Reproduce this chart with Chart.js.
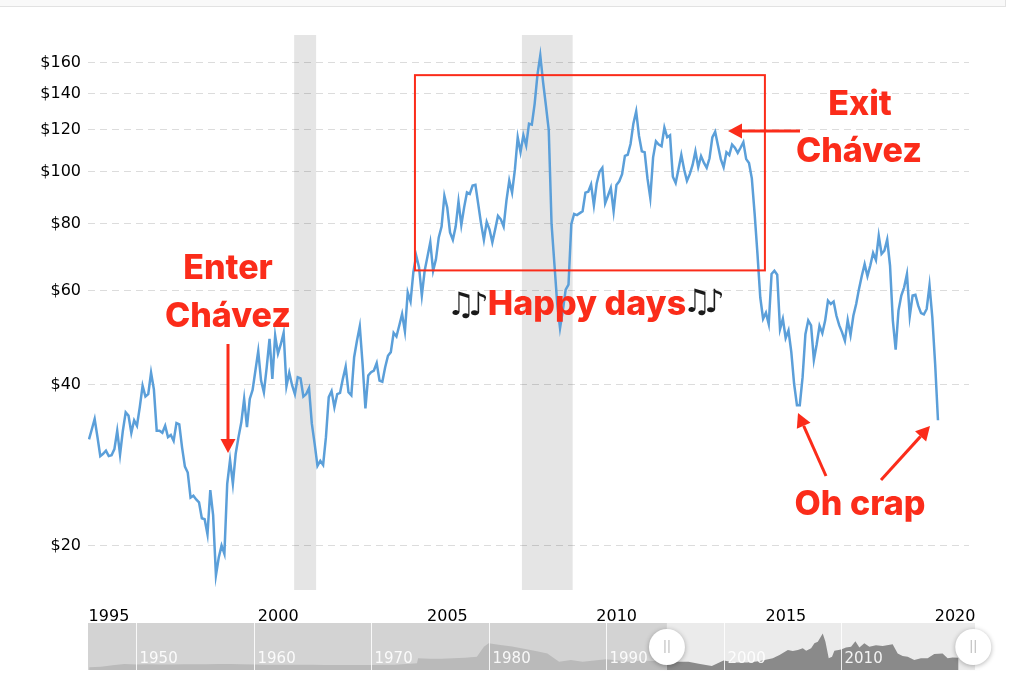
<!DOCTYPE html>
<html>
<head>
<meta charset="utf-8">
<title>Crude oil</title>
<script src="https://cdn.jsdelivr.net/npm/chart.js@4"></script>
<style>
  html, body { margin: 0; padding: 0; background: #fff; }
  #wrap { position: relative; width: 1024px; height: 691px; overflow: hidden; }
  #strip { position: absolute; left: -2px; top: -2px; width: 1006px; height: 7px; background: #f9f9f9; border: 1px solid #e2e2e2; }
  canvas { position: absolute; left: 0; }
  #priceChart { top: 0; }
  #navChart { top: 610px; }
</style>
</head>
<body>
<div id="wrap">
  <div id="strip"></div>
  <canvas id="priceChart" width="1024" height="691"></canvas>
  <canvas id="navChart" width="1024" height="81"></canvas>
</div>
<script>
// monthly price
const firstMonth = 1994.41;
const prices = [
  31.6, 33.0, 34.5, 31.9, 29.4, 29.7, 30.1, 29.4, 29.5, 30.3, 32.8, 29.6,
  32.8, 35.5, 35.0, 32.5, 34.3, 33.5, 36.3, 39.8, 38.0, 38.4, 42.1, 39.2,
  32.8, 32.8, 32.5, 33.5, 31.9, 32.2, 31.4, 33.9, 33.7, 30.5, 28.1, 27.4,
  24.6, 24.8, 24.4, 24.1, 22.5, 22.4, 21.0, 25.4, 22.8, 17.6, 19.0, 20.0,
  19.3, 26.1, 28.9, 26.1, 29.7, 31.9, 34.0, 37.6, 33.3, 37.6, 39.1, 42.5,
  46.2, 40.7, 38.7, 43.1, 48.7, 41.0, 49.4, 45.7, 47.6, 50.0, 39.7, 42.1,
  39.9, 38.4, 41.3, 41.1, 38.0, 38.4, 39.4, 33.8, 31.0, 28.2, 28.8, 28.3,
  31.9, 37.9, 38.9, 36.3, 38.4, 38.6, 41.0, 43.2, 38.7, 38.2, 45.0, 48.3,
  51.4, 43.7, 36.1, 41.6, 42.2, 42.5, 43.9, 40.7, 40.5, 43.1, 45.3, 46.0,
  50.0, 49.2, 51.6, 54.2, 50.3, 59.5, 57.2, 64.9, 69.7, 66.3, 58.7, 65.3,
  69.4, 73.8, 65.3, 68.6, 75.4, 79.0, 90.2, 85.8, 77.0, 74.6, 79.0, 88.0,
  79.5, 85.8, 91.5, 90.9, 94.2, 94.5, 87.0, 80.0, 74.6, 80.6, 78.0, 73.8,
  78.0, 82.7, 81.5, 79.0, 88.3, 96.3, 91.4, 101.0, 116.0, 108.8, 117.0, 112.0,
  123.0, 122.5, 134.0, 152.0, 165.0, 147.0, 133.0, 119.6, 79.8, 67.3, 56.7, 51.0,
  55.0, 60.2, 61.5, 79.8, 83.4, 83.0, 83.7, 84.4, 91.4, 91.8, 94.7, 86.6,
  95.1, 100.0, 101.7, 87.3, 90.2, 93.3, 84.4, 94.5, 96.0, 99.0, 107.1, 107.6,
  112.7, 123.0, 129.7, 116.7, 109.2, 108.8, 97.2, 89.4, 106.4, 114.0, 112.4, 111.6,
  121.0, 116.0, 117.0, 97.9, 95.3, 101.1, 107.6, 101.0, 96.2, 99.0, 103.0, 109.2,
  102.0, 107.0, 104.0, 101.7, 106.0, 116.0, 118.8, 112.0, 105.6, 102.0, 108.8, 107.5,
  112.4, 110.9, 108.5, 110.9, 113.6, 105.6, 103.8, 97.2, 83.4, 70.2, 58.2, 53.1,
  54.5, 51.9, 64.4, 65.3, 64.2, 50.8, 53.1, 48.9, 50.5, 46.0, 40.1, 36.6,
  36.6, 41.3, 49.7, 52.7, 51.6, 44.5, 47.6, 51.5, 49.9, 52.7, 57.4, 56.6,
  57.2, 53.8, 51.6, 50.1, 48.3, 52.8, 49.5, 53.8, 56.6, 60.4, 63.9, 67.2,
  63.8, 66.8, 70.5, 68.4, 75.9, 70.2, 71.2, 74.7, 66.8, 52.7, 46.5, 55.0,
  58.7, 60.8, 64.4, 53.7, 58.7, 58.9, 56.2, 54.4, 54.1, 55.4, 61.3, 53.4,
  43.7, 34.3
];
const priceTicks = [20, 40, 60, 80, 100, 120, 140, 160];
const yearTicks = [1995, 2000, 2005, 2010, 2015, 2020];
const bandStarts = [2000.47, 2007.2];
const bandEnds = [2001.12, 2008.7];

// navigator strip, long history
const navYears = [
  1946, 1947, 1948, 1949, 1950, 1951, 1952, 1953, 1954, 1955, 1956, 1957, 1958, 1959,
  1960, 1961, 1962, 1963, 1964, 1965, 1966, 1967, 1968, 1969, 1970, 1971, 1972, 1973,
  1973.9, 1974, 1975, 1976, 1977, 1978, 1979, 1979.6, 1980, 1981, 1982, 1983, 1984,
  1985, 1986, 1987, 1988, 1989, 1990, 1991, 1992, 1993, 1994, 1995.18, 1996, 1997,
  1998, 1999, 2000, 2001, 2002, 2003, 2004.19, 2004.76, 2005.47, 2005.89, 2006.32,
  2006.74, 2007.03, 2007.45, 2007.73, 2008.02, 2008.44, 2008.67, 2008.95, 2009.23,
  2009.43, 2010, 2010.42, 2010.85, 2011.22, 2011.56, 2011.98, 2012.41, 2012.97,
  2013.54, 2014.39, 2014.82, 2015.24, 2015.67, 2016.23, 2016.8, 2017.37, 2017.93,
  2018.64, 2019.07, 2019.49, 2020
];
const navPrices = [
  12, 15, 21, 27, 25, 26, 25, 25, 26, 26, 26, 27, 27, 26,
  25, 24, 24, 24, 23, 23, 22, 22, 22, 22, 22, 23, 24, 27,
  30, 52, 50, 50, 53, 55, 59, 104, 119, 112, 105, 95, 85,
  74, 37, 45, 37, 42, 48, 42, 37, 42, 40, 37, 37, 37,
  27, 18, 42, 33, 33, 39, 52, 67, 89, 85, 89,
  97, 86, 97, 119, 126, 163, 126, 52, 59,
  86, 92, 101, 104, 129, 101, 119, 104, 111,
  107, 115, 74, 62, 59, 45, 52, 52, 71,
  74, 52, 56, 55
];
const navSplit = 1995.18;
const navHandles = [1995.18, 2021.25];
const navDecades = [1950, 1960, 1970, 1980, 1990, 2000, 2010];

const red = '#fb2c1a';

function arrow(ctx, x0, y0, x1, y1) {
  const a = Math.atan2(y1 - y0, x1 - x0);
  const len = 14, half = 7.5;
  const bx = x1 - Math.cos(a) * len, by = y1 - Math.sin(a) * len;
  ctx.strokeStyle = red;
  ctx.fillStyle = red;
  ctx.lineWidth = 3;
  ctx.beginPath();
  ctx.moveTo(x0, y0);
  ctx.lineTo(bx, by);
  ctx.stroke();
  ctx.beginPath();
  ctx.moveTo(x1, y1);
  ctx.lineTo(bx - Math.sin(a) * half, by + Math.cos(a) * half);
  ctx.lineTo(bx + Math.sin(a) * half, by - Math.cos(a) * half);
  ctx.closePath();
  ctx.fill();
}

const bandsPlugin = {
  id: 'bands',
  beforeDatasetsDraw(chart) {
    const { ctx, chartArea, scales } = chart;
    ctx.save();
    ctx.fillStyle = 'rgba(0,0,0,0.1)';
    bandStarts.forEach((s, i) => {
      const a = scales.x.getPixelForValue(s);
      const b = scales.x.getPixelForValue(bandEnds[i]);
      ctx.fillRect(a, chartArea.top, b - a, chartArea.height);
    });
    ctx.restore();
  }
};

const notesPlugin = {
  id: 'notes',
  afterDraw(chart) {
    const { ctx, scales } = chart;
    ctx.save();

    // the box round the good years
    const left = scales.x.getPixelForValue(2004.04);
    const right = scales.x.getPixelForValue(2014.38);
    const top = scales.y.getPixelForValue(151.6);
    const bottom = scales.y.getPixelForValue(65.4);
    ctx.strokeStyle = red;
    ctx.lineWidth = 2;
    ctx.strokeRect(left, top, right - left, bottom - top);

    arrow(ctx, 228, 344, 228, 453);
    arrow(ctx, 800, 131, 728, 131);
    arrow(ctx, 826, 476, 798, 413);
    arrow(ctx, 881, 480, 930, 426);

    ctx.fillStyle = red;
    ctx.textAlign = 'center';
    ctx.font = '800 34px Inter';
    ctx.fillText('Enter', 228, 279);
    ctx.fillText('Chávez', 228, 327);
    ctx.fillText('Exit', 860, 115);
    ctx.fillText('Chávez', 859, 162);
    ctx.fillText('Oh crap', 860, 515);
    ctx.fillText('Happy days', 587, 315);

    ctx.fillStyle = '#1a1a1a';
    ctx.font = '32px "DejaVu Sans"';
    ctx.letterSpacing = '-7px';
    ctx.fillText('♫♪', 464, 315);
    ctx.fillText('♫♪', 700, 312);
    ctx.restore();
  }
};

new Chart(document.getElementById('priceChart'), {
  type: 'line',
  data: {
    datasets: [{
      data: prices.map((p, i) => ({ x: firstMonth + i / 12, y: p })),
      borderColor: '#5b9fd9',
      borderWidth: 2.5,
      pointRadius: 0,
      tension: 0
    }]
  },
  options: {
    responsive: false,
    animation: false,
    events: [],
    layout: { padding: { left: 0, right: 55, top: 35, bottom: 0 } },
    plugins: { legend: { display: false }, tooltip: { enabled: false } },
    scales: {
      x: {
        type: 'linear',
        min: 1994.38,
        max: 2020.41,
        afterFit(axis) { axis.height = 101; },
        afterBuildTicks(axis) { axis.ticks = yearTicks.map(v => ({ value: v })); },
        grid: { display: false },
        border: { display: false },
        ticks: {
          color: '#000',
          font: { family: 'DejaVu Sans', size: 16 },
          padding: 9,
          maxRotation: 0,
          autoSkip: false,
          callback: v => String(v)
        }
      },
      y: {
        type: 'logarithmic',
        min: 16.52,
        max: 180.2,
        afterFit(axis) { axis.width = 88; },
        afterBuildTicks(axis) { axis.ticks = priceTicks.map(v => ({ value: v })); },
        grid: { color: '#dcdcdc', drawTicks: false },
        border: { display: false, dash: [7, 5] },
        ticks: {
          color: '#000',
          font: { family: 'DejaVu Sans', size: 16 },
          padding: 7,
          autoSkip: false,
          callback: v => '$' + v
        }
      }
    }
  },
  plugins: [bandsPlugin, notesPlugin]
});

const navPlugin = {
  id: 'navParts',
  beforeDatasetsDraw(chart) {
    const { ctx, chartArea, scales } = chart;
    const split = scales.x.getPixelForValue(navSplit);
    ctx.save();
    ctx.fillStyle = '#d3d3d3';
    ctx.fillRect(chartArea.left, chartArea.top, split - chartArea.left, chartArea.height);
    ctx.fillStyle = '#ebebeb';
    ctx.fillRect(split, chartArea.top, chartArea.right - split, chartArea.height);
    ctx.restore();
  },
  afterDraw(chart) {
    const { ctx, chartArea, scales } = chart;
    ctx.save();
    ctx.strokeStyle = 'rgba(255,255,255,0.85)';
    ctx.lineWidth = 1;
    ctx.fillStyle = 'rgba(255,255,255,0.9)';
    ctx.font = '15px "DejaVu Sans"';
    ctx.textAlign = 'left';
    navDecades.forEach(y => {
      const x = Math.round(scales.x.getPixelForValue(y)) + 0.5;
      ctx.beginPath();
      ctx.moveTo(x, chartArea.top);
      ctx.lineTo(x, chartArea.bottom);
      ctx.stroke();
      ctx.fillText(String(y), x + 3, chartArea.bottom - 7);
    });
    navHandles.forEach(y => {
      const x = scales.x.getPixelForValue(y);
      const cy = chartArea.top + 24;
      ctx.save();
      ctx.shadowColor = 'rgba(0,0,0,0.3)';
      ctx.shadowBlur = 5;
      ctx.shadowOffsetY = 1;
      ctx.fillStyle = '#fff';
      ctx.beginPath();
      ctx.arc(x, cy, 18, 0, Math.PI * 2);
      ctx.fill();
      ctx.restore();
      ctx.strokeStyle = '#b5b5b5';
      ctx.beginPath();
      ctx.moveTo(x - 2, cy - 7);
      ctx.lineTo(x - 2, cy + 6);
      ctx.moveTo(x + 2, cy - 7);
      ctx.lineTo(x + 2, cy + 6);
      ctx.stroke();
    });
    ctx.restore();
  }
};

const navPoints = navYears.map((y, i) => ({ x: y, y: navPrices[i] }));

new Chart(document.getElementById('navChart'), {
  type: 'line',
  data: {
    datasets: [
      {
        data: navPoints.filter(p => p.x <= navSplit),
        borderWidth: 0,
        pointRadius: 0,
        fill: 'origin',
        backgroundColor: '#bababa',
        tension: 0
      },
      {
        data: navPoints.filter(p => p.x >= navSplit),
        borderWidth: 0,
        pointRadius: 0,
        fill: 'origin',
        backgroundColor: '#8a8a8a',
        tension: 0
      }
    ]
  },
  options: {
    responsive: false,
    animation: false,
    events: [],
    layout: { padding: { left: 88, right: 49, top: 13, bottom: 21 } },
    plugins: { legend: { display: false }, tooltip: { enabled: false } },
    scales: {
      x: { type: 'linear', min: 1945.9, max: 2021.4, display: false },
      y: { type: 'linear', min: 0, max: 210, display: false }
    }
  },
  plugins: [navPlugin]
});
</script>
</body>
</html>
